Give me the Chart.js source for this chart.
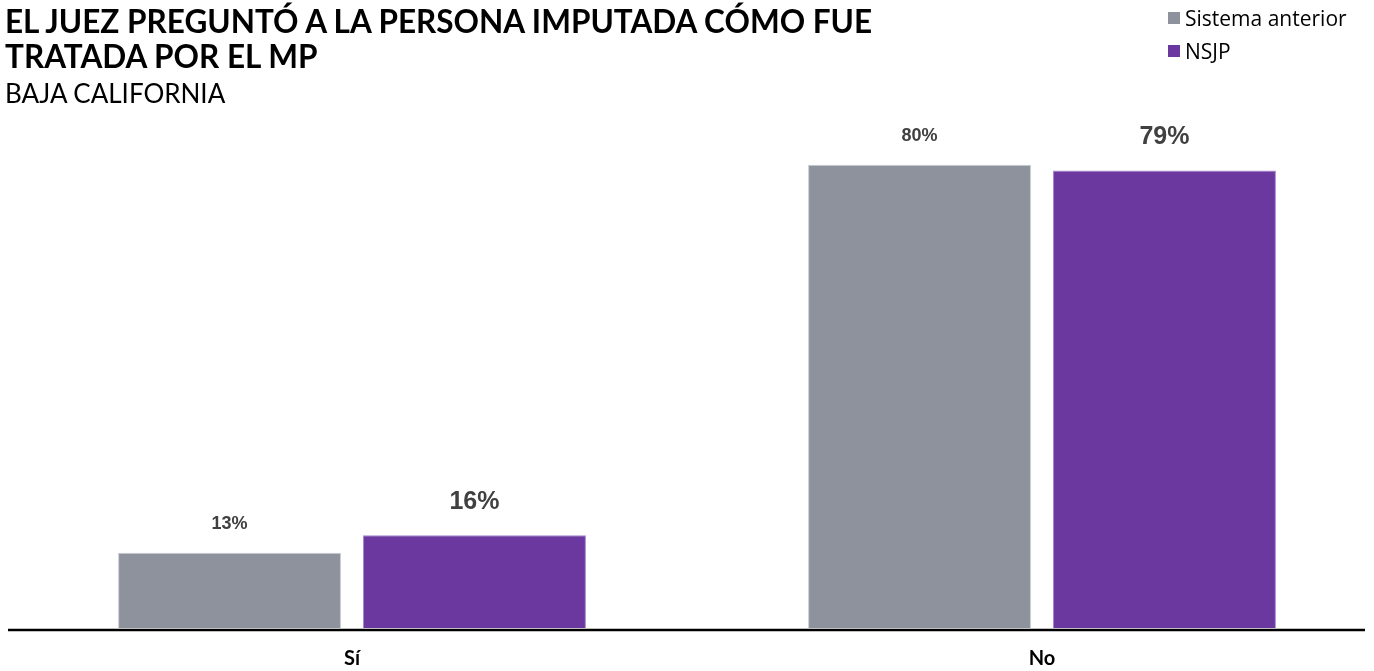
<!DOCTYPE html>
<html lang="es">
<head>
<meta charset="utf-8">
<title>Trato por el MP</title>
<script src="https://cdn.jsdelivr.net/npm/chart.js@4.4.1/dist/chart.umd.min.js"></script>
<style>
  html, body { margin: 0; padding: 0; background: #fff; overflow: hidden; }
  body { width: 1374px; height: 671px; position: relative; font-family: Lato, sans-serif; }
  #header { position: absolute; left: 5px; top: 4px; z-index: 2; white-space: nowrap; }
  #header h1 { margin: 0; font: 700 31.5px/35px Lato, sans-serif; color: #000; }
  #header h2 { margin: 4px 0 0; font: 400 26px/30px Lato, sans-serif; color: #000; }
  #legend { position: absolute; left: 1168px; top: 1px; z-index: 2; font: 21px "Open Sans", sans-serif; color: #000; white-space: nowrap; }
  #legend div { height: 33px; display: flex; align-items: center; }
  #legend span.box { width: 12px; height: 12px; margin-right: 5px; display: inline-block; }
  #wrap { position: absolute; left: 0; top: 0; width: 1394px; height: 671px; }
</style>
</head>
<body>
<div id="header">
  <h1>EL JUEZ PREGUNTÓ A LA PERSONA IMPUTADA CÓMO FUE<br>TRATADA POR EL MP</h1>
  <h2>BAJA CALIFORNIA</h2>
</div>
<div id="legend"></div>
<div id="wrap"><canvas id="chart"></canvas></div>
<script>
const categories = ["Sí", "No"];
const seriesNames = ["Sistema anterior", "NSJP"];
const anterior = [13, 80];
const nsjp = [16, 79];

const colors = ["#8e929c", "#6a389f"];
const borders = ["#c9ccd3", "#a585cf"];
const labelFonts = ["bold 18px 'Liberation Sans', Arial, sans-serif", "bold 25px 'Liberation Sans', Arial, sans-serif"];
const labelGaps = [29, 33];

// base line under the bars, shorter than the plot area
const baseLine = {
  id: "baseLine",
  afterDatasetsDraw(chart) {
    const { ctx, chartArea } = chart;
    ctx.save();
    ctx.strokeStyle = "#000";
    ctx.lineWidth = 2.5;
    ctx.beginPath();
    ctx.moveTo(8, chartArea.bottom + 2);
    ctx.lineTo(1365, chartArea.bottom + 2);
    ctx.stroke();
    ctx.restore();
  }
};

// percentage labels over each bar
const valueLabels = {
  id: "valueLabels",
  afterDatasetsDraw(chart) {
    const { ctx } = chart;
    ctx.save();
    ctx.fillStyle = "#404040";
    ctx.textAlign = "center";
    ctx.textBaseline = "middle";
    chart.data.datasets.forEach((ds, i) => {
      ctx.font = labelFonts[i];
      chart.getDatasetMeta(i).data.forEach((bar, j) => {
        ctx.fillText(ds.data[j] + "%", bar.x, bar.y - labelGaps[i]);
      });
    });
    ctx.restore();
  }
};

const legendEl = document.getElementById("legend");
seriesNames.forEach((name, i) => {
  const row = document.createElement("div");
  row.innerHTML = '<span class="box" style="background:' + colors[i] + '"></span>' + name;
  legendEl.appendChild(row);
});

new Chart(document.getElementById("chart"), {
  type: "bar",
  data: {
    labels: categories,
    datasets: [
      { label: seriesNames[0], data: anterior, backgroundColor: colors[0], borderColor: borders[0], borderWidth: 1 },
      { label: seriesNames[1], data: nsjp, backgroundColor: colors[1], borderColor: borders[1], borderWidth: 1 }
    ]
  },
  options: {
    responsive: true,
    maintainAspectRatio: false,
    animation: false,
    categoryPercentage: 0.71,
    barPercentage: 0.91,
    layout: { padding: { left: 7, right: 7, top: 49, bottom: 0 } },
    plugins: {
      legend: { display: false },
      tooltip: { enabled: false }
    },
    scales: {
      x: {
        grid: { display: false, drawTicks: false },
        border: { display: false },
        ticks: {
          padding: 19,
          color: "#000",
          font: { family: "Lato", size: 20, weight: "bold" }
        },
        afterFit(scale) { scale.height = 43; }
      },
      y: {
        display: false,
        min: 0,
        max: 100
      }
    }
  },
  plugins: [baseLine, valueLabels]
});
</script>
</body>
</html>
